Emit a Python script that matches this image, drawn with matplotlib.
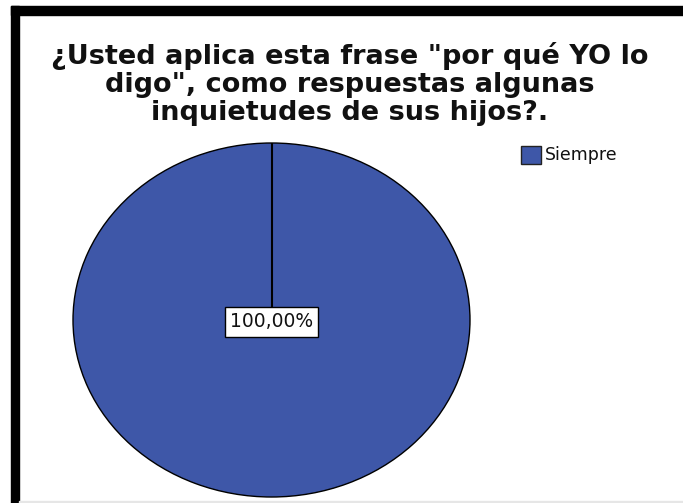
import matplotlib
matplotlib.use("Agg")
import matplotlib.pyplot as plt
from matplotlib.patches import Rectangle

# Data
categories = ["Siempre"]
values = [100.0]
labels = ["100,00%"]
title = '¿Usted aplica esta frase "por qué YO lo\ndigo", como respuestas algunas\ninquietudes de sus hijos?.'
color = "#3E57A8"

W, H = 683, 503
fig = plt.figure(figsize=(W / 100, H / 100), dpi=100)
fig.patch.set_facecolor("white")

# Border bars (black), as in the screenshot
fig.patches.append(Rectangle((11 / W, (H - 15) / H), 1 - 11 / W, 9 / H,
                             transform=fig.transFigure, color="black", zorder=5))
fig.patches.append(Rectangle((11 / W, 0), 8 / W, (H - 6) / H,
                             transform=fig.transFigure, color="black", zorder=5))
fig.patches.append(Rectangle((19 / W, 0.5 / H), 1 - 19 / W, 1.2 / H,
                             transform=fig.transFigure, color="#E6E6E6", zorder=5))

# Title
fig.text(350 / W, (H - 84) / H, title, ha="center", va="center",
         fontsize=19.5, fontweight="bold", family="DejaVu Sans",
         linespacing=1.12, color="#111111")

# Pie axes (elliptical)
ax = fig.add_axes([73 / W, 6 / H, 397 / W, 354 / H])
wedges, _ = ax.pie(values, colors=[color], startangle=90, radius=1,
                   wedgeprops=dict(edgecolor="black", linewidth=1.0))
ax.set_aspect("auto")
ax.set_xlim(-1.0, 1.0)
ax.set_ylim(-1.0, 1.0)
ax.axis("off")
# radial boundary line at the start angle
ax.plot([0, 0], [0, 1], color="black", lw=1.5, solid_capstyle="butt")
ax.text(0, -0.01, labels[0], ha="center", va="center", fontsize=13.5,
        family="DejaVu Sans", color="#111111",
        bbox=dict(boxstyle="square,pad=0.28", fc="white", ec="black", lw=1.0))

# Legend
fig.patches.append(Rectangle((521 / W, (H - 164) / H), 20 / W, 18 / H,
                             transform=fig.transFigure, facecolor=color,
                             edgecolor="#222222", lw=1.0, zorder=5))
fig.text(545 / W, (H - 155) / H, categories[0], ha="left", va="center",
         fontsize=12.5, family="DejaVu Sans", color="#111111")

fig.savefig("out.png", dpi=100, facecolor="white")
